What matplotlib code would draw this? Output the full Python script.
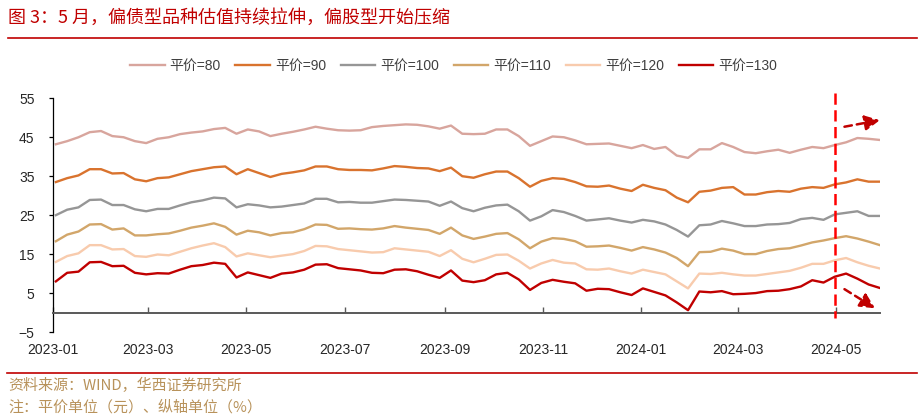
import matplotlib
matplotlib.use('Agg')
import matplotlib.pyplot as plt
import matplotlib.dates as mdates
import pandas as pd

plt.rcParams['font.family'] = ['Liberation Sans', 'Noto Sans CJK SC', 'DejaVu Sans']

# ---- data (weekly readings) ----
dates = pd.date_range('2023-01-03', periods=74, freq='7D')

labels = ['平价=80', '平价=90', '平价=100', '平价=110', '平价=120', '平价=130']

s80 = [43.2, 44.0, 45.0, 46.3, 46.6, 45.3, 45.0, 44.0, 43.5, 44.6, 45.0, 45.8, 46.2,
       46.5, 47.1, 47.4, 45.9, 47.0, 46.5, 45.3, 45.9, 46.4, 47.0, 47.7, 47.2, 46.8,
       46.7, 46.8, 47.6, 47.9, 48.1, 48.3, 48.2, 47.8, 47.2, 48.0, 45.9, 45.8, 45.9,
       47.0, 47.0, 45.3, 42.8, 44.0, 45.2, 45.0, 44.2, 43.2, 43.3, 43.4, 42.8, 42.2,
       43.0, 42.0, 42.5, 40.3, 39.7, 41.9, 41.9, 43.5, 42.5, 41.2, 40.9, 41.4, 41.8,
       41.0, 41.8, 42.5, 42.2, 43.0, 43.7, 44.8, 44.6, 44.3]
s90 = [33.5, 34.5, 35.2, 36.8, 36.8, 35.7, 35.8, 34.2, 33.7, 34.5, 34.7, 35.5, 36.3,
       36.8, 37.3, 37.5, 35.5, 36.8, 35.8, 34.8, 35.6, 36.0, 36.5, 37.5, 37.5, 36.8,
       36.6, 36.6, 36.5, 37.0, 37.6, 37.4, 37.1, 37.0, 36.3, 37.2, 35.0, 34.6, 35.5,
       36.2, 36.2, 34.5, 32.3, 33.8, 34.5, 34.3, 33.5, 32.4, 32.3, 32.6, 31.8, 31.2,
       32.8, 32.0, 31.4, 29.5, 28.3, 31.0, 31.3, 32.0, 32.2, 30.3, 30.3, 30.9, 31.2,
       31.0, 31.8, 32.2, 32.0, 32.9, 33.4, 34.2, 33.6, 33.6]
s100 = [25.0, 26.4, 27.0, 28.9, 29.0, 27.6, 27.6, 26.5, 26.0, 26.6, 26.6, 27.5, 28.3,
        28.8, 29.5, 29.3, 27.0, 27.8, 27.5, 27.0, 27.2, 27.6, 28.0, 29.2, 29.2, 28.3,
        28.4, 28.2, 28.2, 28.6, 29.0, 28.9, 28.7, 28.5, 27.4, 28.5, 26.8, 26.0, 26.9,
        27.5, 27.7, 26.0, 23.6, 24.7, 26.3, 25.8, 24.8, 23.6, 23.9, 24.2, 23.6, 23.1,
        23.8, 23.4, 22.6, 21.2, 19.5, 22.4, 22.6, 23.5, 22.9, 22.2, 22.2, 22.6, 22.7,
        23.0, 24.0, 24.3, 23.8, 25.2, 25.6, 26.0, 24.8, 24.8]
s110 = [18.3, 20.0, 20.8, 22.6, 22.7, 21.3, 21.6, 19.8, 19.8, 20.1, 20.3, 21.0, 21.8,
        22.3, 22.9, 22.0, 20.0, 21.0, 20.6, 19.8, 20.4, 20.6, 21.4, 22.6, 22.5, 21.5,
        21.6, 21.4, 21.3, 21.6, 22.2, 21.8, 21.5, 21.2, 20.2, 21.8, 19.8, 18.9, 19.5,
        20.2, 20.4, 18.8, 16.5, 18.2, 19.1, 18.9, 18.3, 16.9, 17.0, 17.2, 16.6, 15.9,
        16.8, 16.2, 15.4, 14.0, 11.9, 15.5, 15.6, 16.4, 15.9, 15.0, 15.0, 15.8, 16.3,
        16.5, 17.2, 18.0, 18.5, 19.1, 19.6, 19.0, 18.2, 17.3]
s120 = [13.0, 14.5, 15.2, 17.3, 17.3, 16.2, 16.3, 14.5, 14.3, 14.9, 14.7, 15.6, 16.5,
        17.2, 17.8, 16.8, 14.4, 15.2, 14.7, 14.2, 14.6, 15.0, 15.8, 17.1, 17.0, 16.3,
        16.0, 15.7, 15.4, 15.5, 16.5, 16.2, 15.9, 15.6, 14.5, 16.0, 13.8, 12.9, 13.8,
        14.8, 14.9, 13.3, 11.3, 12.6, 13.5, 12.8, 12.6, 11.1, 11.0, 11.3, 10.6, 10.0,
        11.0, 10.4, 9.8, 8.0, 6.2, 10.0, 9.9, 10.2, 9.8, 9.5, 9.5, 9.9, 10.3,
        10.7, 11.5, 12.5, 12.5, 13.4, 14.0, 12.9, 12.0, 11.3]
s130 = [8.0, 10.2, 10.5, 12.9, 13.0, 11.9, 12.0, 10.2, 9.8, 10.1, 10.0, 11.0, 11.9,
        12.2, 12.8, 12.5, 9.0, 10.3, 9.6, 8.9, 10.0, 10.3, 11.0, 12.3, 12.4, 11.4,
        11.1, 10.8, 10.2, 10.1, 11.0, 11.1, 10.6, 9.7, 8.9, 10.8, 8.2, 7.8, 8.3,
        9.8, 10.2, 8.5, 5.8, 7.6, 8.4, 7.9, 7.5, 5.6, 6.1, 6.0, 5.2, 4.5,
        6.2, 5.3, 4.4, 2.6, 0.6, 5.4, 5.2, 5.5, 4.7, 4.8, 5.0, 5.5, 5.6,
        6.0, 6.7, 8.3, 7.7, 9.2, 10.0, 8.7, 7.2, 6.3]

series = [s80, s90, s100, s110, s120, s130]
colors = ['#D8A59D', '#D9732E', '#969696', '#D2A66A', '#F8CBAD', '#C00000']

yticks = [-5, 5, 15, 25, 35, 45, 55]
xticks = pd.to_datetime(['2023-01-01', '2023-03-01', '2023-05-01', '2023-07-01', '2023-09-01',
                         '2023-11-01', '2024-01-01', '2024-03-01', '2024-05-01'])
marker_date = pd.Timestamp('2024-04-30')

# ---- figure ----
fig = plt.figure(figsize=(9.19, 4.19), dpi=100)
ax = fig.add_axes([0.0573, 0.2076, 0.9002, 0.5578])

for s, c, lab in zip(series, colors, labels):
    ax.plot(dates, s, color=c, lw=1.7, label=lab, solid_joinstyle='round')

ax.set_ylim(-5, 55)
ax.set_xlim(pd.Timestamp('2023-01-01'), pd.Timestamp('2024-05-28'))
ax.set_yticks(yticks)
ax.set_xticks(xticks)
ax.xaxis.set_major_formatter(mdates.DateFormatter('%Y-%m'))

for side in ['top', 'right']:
    ax.spines[side].set_visible(False)
ax.spines['bottom'].set_position(('data', 0))
ax.spines['bottom'].set_color('#595959')
ax.spines['bottom'].set_linewidth(1.4)
ax.spines['left'].set_color('#000000')
ax.spines['left'].set_linewidth(0.9)

ax.tick_params(axis='x', direction='in', length=4, width=1, color='#595959',
               pad=22, labelsize=10, labelcolor='#262626')
ax.tick_params(axis='y', direction='out', length=3, width=0.9, color='#000000',
               pad=10, labelsize=10, labelcolor='#262626')

# vertical dashed marker
ax.plot([marker_date, marker_date], [56.4, -1.3], color='#FF0000', lw=1.8,
        linestyle=(0, (4.5, 2.2)), clip_on=False, zorder=5)

# arrows
arrow_kw = dict(arrowstyle='-|>,head_length=0.9,head_width=0.45', color='#C00000',
                lw=1.8, linestyle=(0, (3, 2)), shrinkA=0, shrinkB=0)
ax.annotate('', xy=(pd.Timestamp('2024-05-28'), 49.4), xytext=(pd.Timestamp('2024-05-06'), 47.7),
            arrowprops=arrow_kw, annotation_clip=False)
ax.annotate('', xy=(pd.Timestamp('2024-05-25'), 1.1), xytext=(pd.Timestamp('2024-05-06'), 6.0),
            arrowprops=arrow_kw, annotation_clip=False)

# legend
leg = fig.legend(loc='center', bbox_to_anchor=(0.4935, 0.8425), ncol=6, frameon=False,
                 handlelength=2.5, handletextpad=0.35, columnspacing=1.05,
                 prop={'family': ['Liberation Sans', 'Noto Sans CJK SC'], 'size': 10})
for t in leg.get_texts():
    t.set_color('#404040')

# title and rules
fig.text(0.009, 1 - 18 / 419, '图 3：5 月，偏债型品种估值持续拉伸，偏股型开始压缩',
         fontsize=13, color='#C00000', va='center', ha='left',
         family=['Noto Sans CJK SC', 'DejaVu Sans'])
fig.add_artist(plt.Line2D([8 / 919, 917 / 919], [1 - 38 / 419, 1 - 38 / 419],
                          color='#C00000', lw=1.2, transform=fig.transFigure))
fig.add_artist(plt.Line2D([7 / 919, 917 / 919], [1 - 373 / 419, 1 - 373 / 419],
                          color='#C00000', lw=1.2, transform=fig.transFigure))
fig.text(0.009, 1 - 385 / 419, '资料来源：WIND，华西证券研究所', fontsize=10.8,
         color='#B8925A', va='center', ha='left', family=['Noto Sans CJK SC', 'DejaVu Sans'])
fig.text(0.009, 1 - 407 / 419, '注：平价单位（元）、纵轴单位（%）', fontsize=10.8,
         color='#B8925A', va='center', ha='left', family=['Noto Sans CJK SC', 'DejaVu Sans'])

fig.savefig('out.png', dpi=100)
